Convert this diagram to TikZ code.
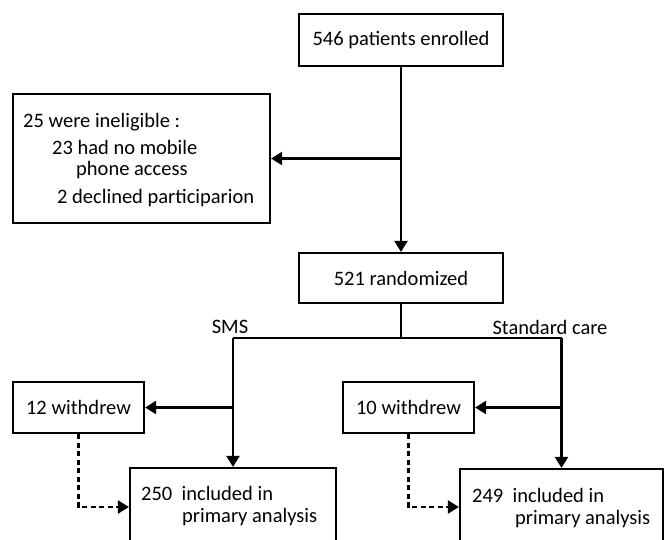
\documentclass[tikz,border=0pt]{standalone}
\usepackage{fontspec}
\setmainfont{Carlito}
\usetikzlibrary{arrows.meta}

\tikzset{
  box/.style={draw, line width=2.2pt, fill=white, inner sep=0pt, font=\fontsize{20.5}{24}\selectfont},
  flow/.style={line width=2.2pt, -{Triangle[length=11pt,width=13pt]}},
  link/.style={line width=2.2pt},
  dashflow/.style={line width=2.2pt, dash pattern=on 5pt off 3.5pt, -{Triangle[length=11pt,width=13pt]}},
  arm/.style={font=\fontsize{20.5}{24}\selectfont, inner sep=0pt}
}

\begin{document}
\begin{tikzpicture}[x=1pt, y=-1pt]
		\useasboundingbox (0,0) rectangle (664,539);
		\clip (0,0) rectangle (664,539);
		
		\node[box, minimum width=204pt, minimum height=52pt] (enrolled) at (401,40) {546 patients enrolled};
		\node[box, minimum width=257pt, minimum height=129pt] (inelig) at (141.5,158.5) {};
		\node[arm, anchor=west] (inelA) at (23,122) {25 were ineligible :};
		\node[arm, anchor=west] (inelB) at (52,147) {23 had no mobile};
		\node[arm, anchor=west] (inelC) at (76,170) {phone access};
		\node[arm, anchor=west] (inelD) at (57,198) {2 declined participarion};
		\node[box, minimum width=204pt, minimum height=50pt] (random) at (401,278) {521 randomized};
		
		\node[box, minimum width=131pt, minimum height=51pt] (wdA) at (78.5,407.5) {12 withdrew};
		\node[box, minimum width=131pt, minimum height=51pt] (wdB) at (408.5,407.5) {10 withdrew};
		\node[box, minimum width=206pt, minimum height=100pt] (anA) at (233,518) {};
		\node[box, minimum width=203pt, minimum height=100pt] (anB) at (561.5,519) {};
		\node[arm, anchor=west] (anA1) at (141,493) {250\ \ included in};
		\node[arm, anchor=west] (anA2) at (182,517) {primary analysis};
		\node[arm, anchor=west] (anB1) at (472,495) {249\ \ included in};
		\node[arm, anchor=west] (anB2) at (515,519) {primary analysis};
		
		\node[arm] (sms) at (230,327) {SMS};
		\node[arm] (std) at (550,327) {Standard care};
		
		\coordinate (excl) at (enrolled.south |- inelig.east);
		\coordinate (split) at (random.south |- 0,338);
		\coordinate (splitL) at (anA.north |- split);
		\coordinate (splitR) at (anB.north |- split);
		\coordinate (brA) at (anA.north |- wdA.east);
		\coordinate (brB) at (anB.north |- wdB.east);
		\coordinate (dropA) at (wdA.south |- 0,507);
		\coordinate (dropB) at (wdB.south |- 0,507);
		
		\draw[flow] (enrolled.south) -- (random.north);
		\draw[flow] (excl) -- (inelig.east);
		\draw[link] (random.south) -- (split);
		\draw[link] (splitL) -- (splitR);
		\draw[flow] (splitL) -- (anA.north);
		\draw[flow] (splitR) -- (anB.north);
		\draw[flow] (brA) -- (wdA.east);
		\draw[flow] (brB) -- (wdB.east);
		\draw[dashflow] (wdA.south) -- (dropA) -- (anA.west |- dropA);
		\draw[dashflow] (wdB.south) -- (dropB) -- (anB.west |- dropB);
	\end{tikzpicture}
\end{document}
